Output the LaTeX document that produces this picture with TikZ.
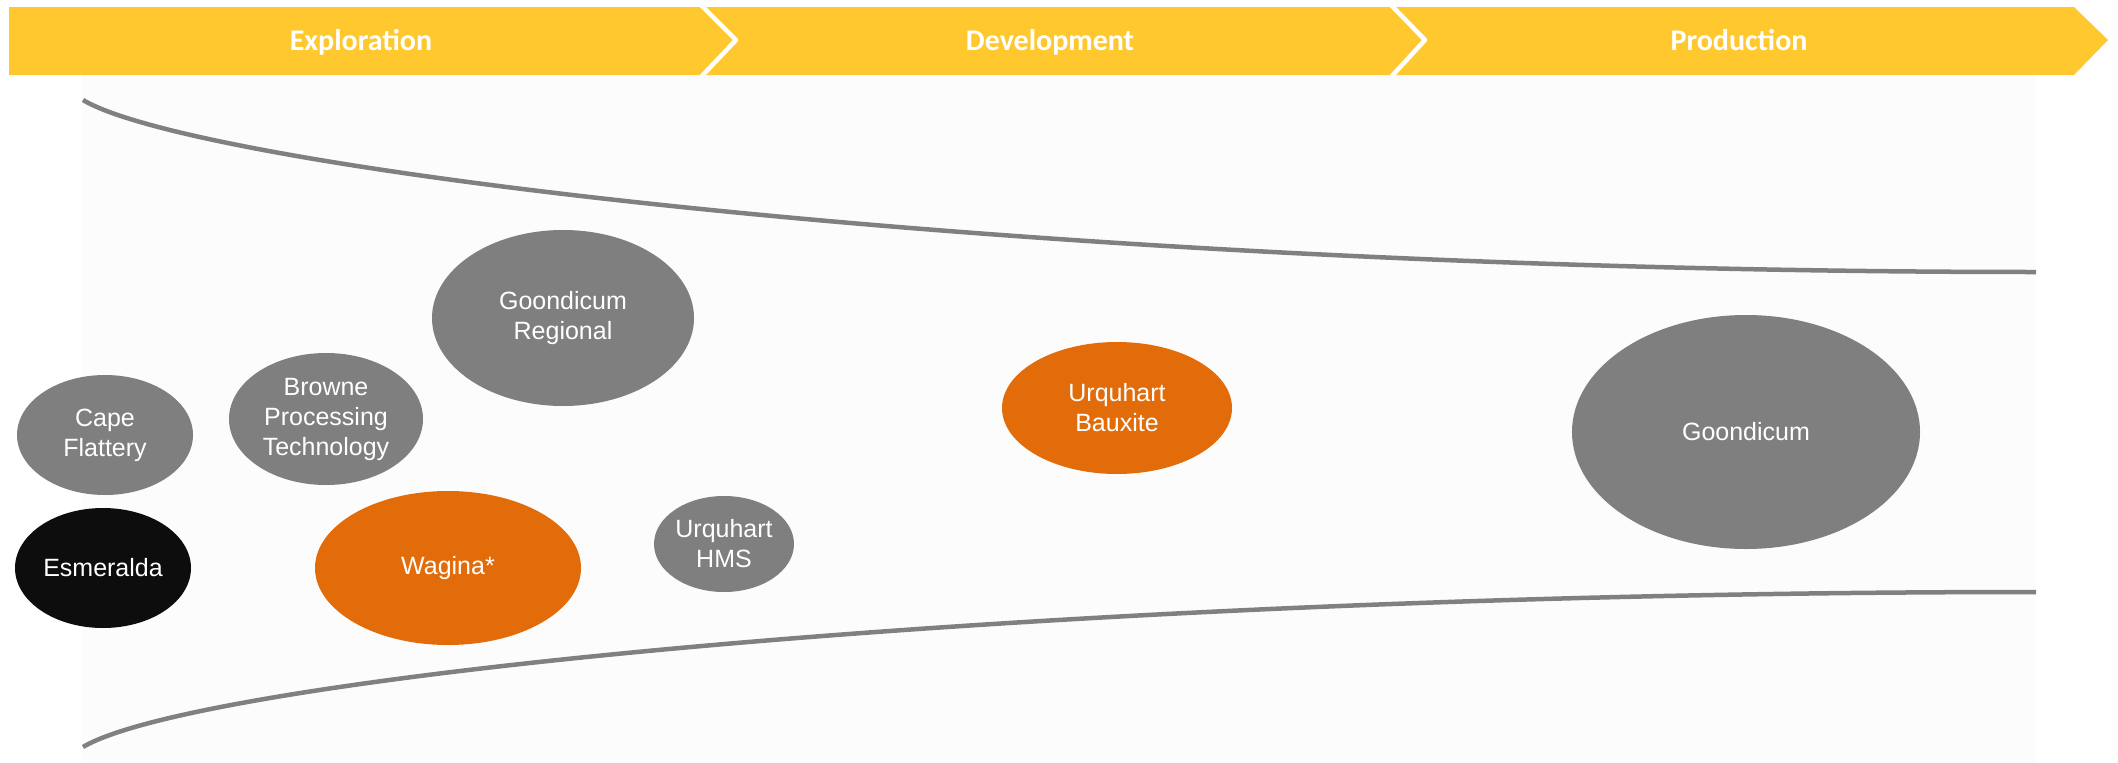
\documentclass[tikz,border=0pt]{standalone}
\usepackage{fontspec}
\setmainfont{Liberation Sans}
\newfontfamily\bannerfont{Carlito}
\usetikzlibrary{shapes.geometric}
\definecolor{bannery}{HTML}{FEC82E}
\definecolor{bubgrey}{HTML}{7F7F7F}
\definecolor{buborange}{HTML}{E36C0A}
\definecolor{bubblack}{HTML}{0D0D0D}
\definecolor{linegrey}{HTML}{808080}
\definecolor{bgpale}{HTML}{FCFCFC}
\begin{document}
\begin{tikzpicture}[x=1pt,y=-1pt,
  bubble/.style={ellipse, inner sep=0pt, text=white, align=center,
    font=\fontsize{25}{30}\selectfont},
  greyb/.style={bubble, fill=bubgrey},
  orangeb/.style={bubble, fill=buborange},
  blackb/.style={bubble, fill=bubblack},
  phase/.style={anchor=base, text=white, font=\bannerfont\bfseries\fontsize{30}{36}\selectfont},
  sep/.style={draw=white, line width=4.5pt, line join=round},
  funnel/.style={draw=linegrey, line width=4.5pt}]
\useasboundingbox (0,0) rectangle (2118,763);
% pale background
\fill[bgpale] (82,75) rectangle (2036,763);
% banner
\fill[bannery] (9,7) -- (2074,7) -- (2108,40) -- (2074,75) -- (9,75) -- cycle;
\coordinate (s1a) at (701,5);
\coordinate (s1b) at (736,40);
\coordinate (s1c) at (701,77);
\coordinate (s2a) at (1391,5);
\coordinate (s2b) at (1425,40);
\coordinate (s2c) at (1391,77);
\draw[sep] (s1a) -- (s1b) -- (s1c);
\draw[sep] (s2a) -- (s2b) -- (s2c);
\node[phase] (exp) at (361,50) {Exploration};
\node[phase] (dev) at (1050,50) {Development};
\node[phase] (prod) at (1739,50) {Production};
% funnel curves
\coordinate (t0) at (83,100);
\coordinate (t1) at (200,170);
\coordinate (t2) at (1050,272);
\coordinate (t3) at (2036,272);
\coordinate (b0) at (83,747);
\coordinate (b1) at (200,677);
\coordinate (b2) at (1050,592);
\coordinate (b3) at (2036,592);
\draw[funnel] (t0) .. controls (t1) and (t2) .. (t3);
\draw[funnel] (b0) .. controls (b1) and (b2) .. (b3);
% bubbles
\node[greyb, minimum width=262pt, minimum height=176pt] (goreg) at (563,318) {Goondicum\\Regional};
\node[greyb, minimum width=176pt, minimum height=120pt] (cape) at (105,435) {Cape\\Flattery};
\node[greyb, minimum width=194pt, minimum height=132pt] (browne) at (326,419) {Browne\\Processing\\Technology};
\node[blackb, minimum width=176pt, minimum height=120pt] (esme) at (103,568) {Esmeralda};
\node[orangeb, minimum width=266pt, minimum height=154pt] (wagina) at (448,568) {Wagina*};
\node[greyb, minimum width=140pt, minimum height=96pt] (uhms) at (724,544) {Urquhart\\HMS};
\node[orangeb, minimum width=230pt, minimum height=132pt] (ubaux) at (1117,408) {Urquhart\\Bauxite};
\node[greyb, minimum width=348pt, minimum height=234pt] (goon) at (1746,432) {Goondicum};
\end{tikzpicture}
\end{document}
